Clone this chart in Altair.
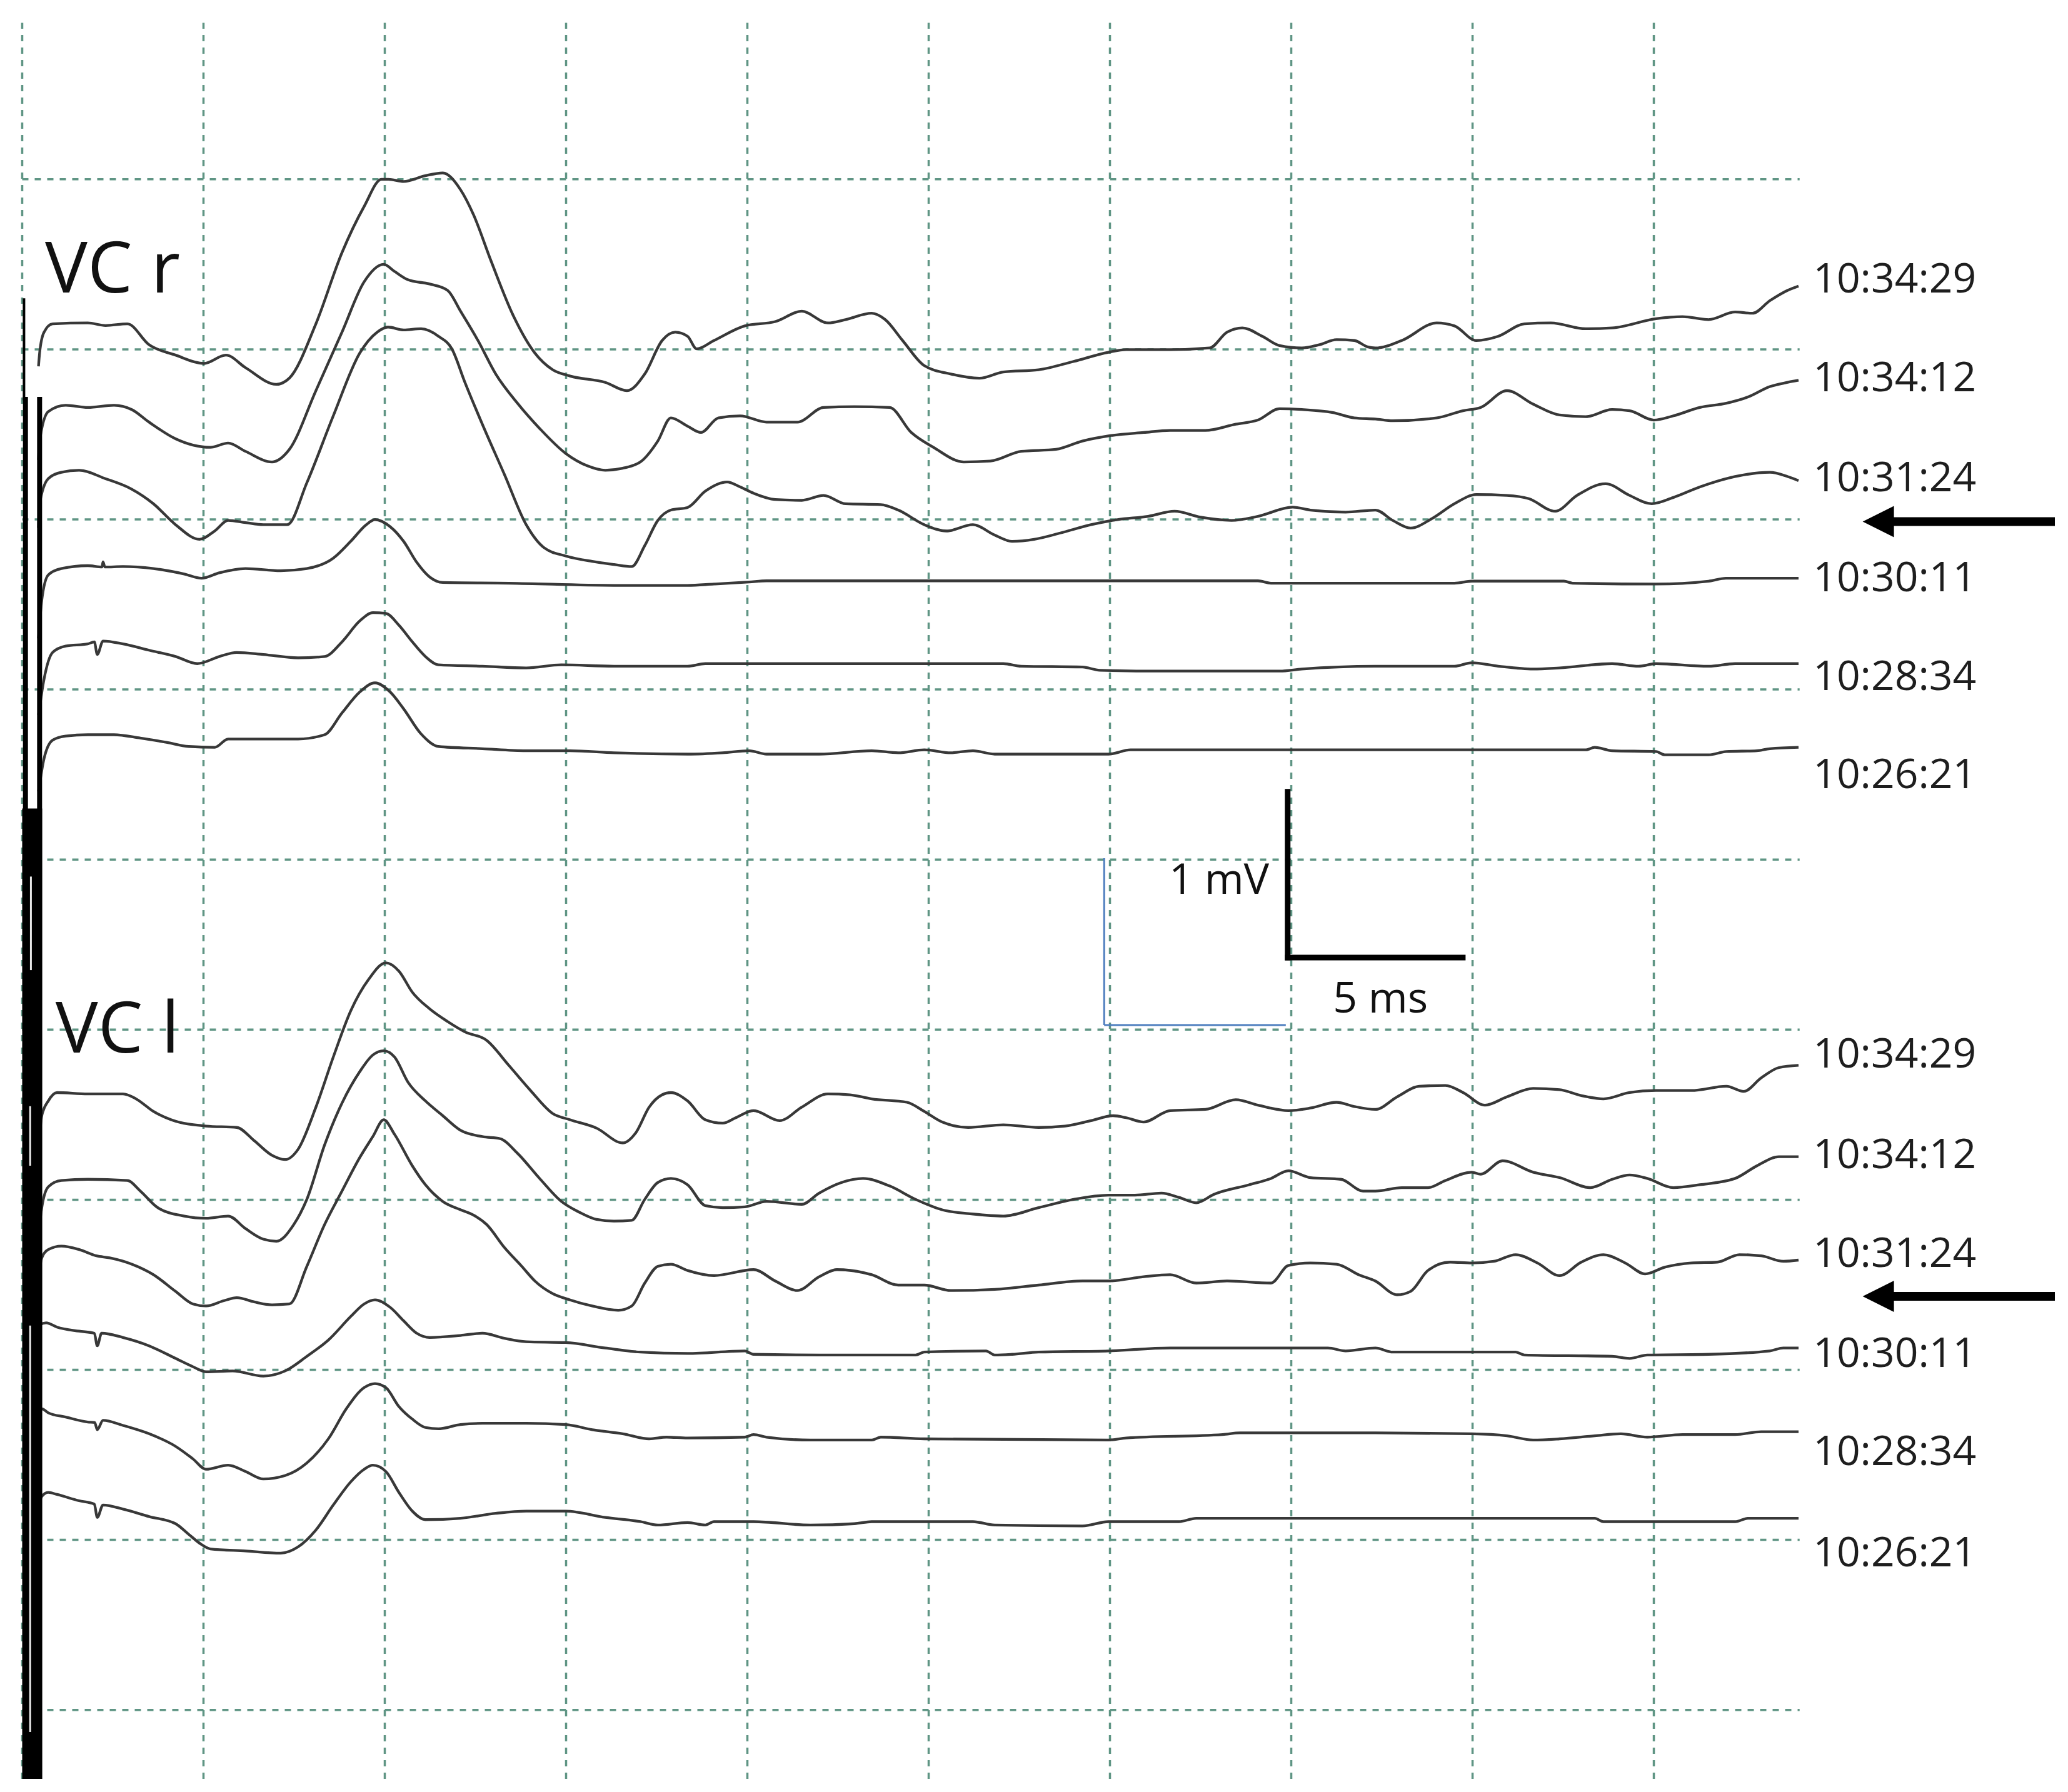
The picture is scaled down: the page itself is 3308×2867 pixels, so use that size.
import altair as alt
import pandas as pd

# ---------------- data (time in ms, potential in mV, traces offset on the sheet) -------------
R_103429 = [[0.45,7.90],[0.48,7.978],[0.6,8.10],[0.84,8.15],[1.81,8.155],[2.3,8.14],[2.9,8.15],[3.5,8.027],[4.23,7.966],[5.01,7.917],[5.62,7.966],[6.16,7.892],[7.01,7.794],[7.37,7.831],[8.1,8.15],[8.82,8.569],[9.43,8.84],[9.91,9.0],[10.1,9.0],[10.52,8.987],[11.1,9.02],[11.6,9.037],[12.09,8.938],[12.45,8.79],[12.93,8.52],[13.54,8.2],[14.14,7.978],[14.63,7.88],[15.11,7.843],[16.08,7.806],[16.68,7.757],[17.17,7.855],[17.65,8.052],[18.01,8.101],[18.35,8.077],[18.6,8.003],[19.08,8.052],[19.93,8.138],[20.77,8.163],[21.5,8.224],[22.22,8.155],[22.71,8.175],[23.43,8.212],[23.8,8.175],[24.28,8.052],[24.88,7.904],[25.61,7.855],[26.4,7.83],[27.06,7.867],[28.03,7.88],[29.0,7.929],[29.96,7.983],[30.45,7.998],[31.66,7.998],[32.75,8.008],[33.23,8.101],[33.65,8.126],[34.2,8.077],[34.68,8.022],[35.29,8.008],[35.77,8.027],[36.25,8.057],[36.74,8.052],[37.1,8.015],[37.32,8.008],[38.05,8.052],[39.01,8.155],[39.5,8.138],[40.1,8.052],[40.71,8.077],[41.43,8.15],[42.16,8.155],[43.12,8.121],[43.85,8.126],[45.06,8.18],[45.79,8.192],[46.51,8.175],[47.24,8.22],[47.72,8.212],[48.2,8.286],[48.69,8.347],[48.99,8.372]]
R_103412 = [[0.45,7.35],[0.48,7.461],[0.72,7.634],[1.2,7.671],[1.81,7.658],[2.53,7.671],[3.02,7.646],[3.5,7.572],[4.23,7.474],[4.71,7.437],[5.19,7.424],[5.68,7.449],[6.16,7.4],[6.89,7.338],[7.37,7.412],[8.1,7.757],[8.82,8.101],[9.43,8.397],[9.97,8.5],[10.27,8.458],[10.64,8.409],[11.24,8.384],[11.73,8.347],[12.09,8.224],[12.57,8.052],[13.06,7.855],[13.66,7.683],[14.27,7.535],[14.99,7.388],[15.6,7.314],[16.08,7.289],[16.56,7.301],[17.05,7.338],[17.53,7.461],[17.89,7.597],[18.35,7.548],[18.72,7.511],[19.2,7.597],[19.8,7.609],[20.53,7.572],[21.38,7.572],[22.1,7.658],[22.95,7.663],[23.92,7.658],[24.52,7.511],[25.13,7.424],[25.97,7.338],[26.7,7.343],[27.55,7.4],[28.51,7.412],[29.24,7.461],[29.96,7.491],[30.93,7.511],[31.66,7.523],[32.63,7.523],[33.47,7.56],[34.08,7.584],[34.68,7.651],[35.29,7.646],[36.13,7.629],[36.74,7.597],[37.32,7.59],[37.8,7.58],[39.01,7.597],[39.74,7.639],[40.22,7.658],[40.95,7.757],[41.67,7.678],[42.4,7.614],[43.12,7.604],[43.85,7.646],[44.33,7.639],[45.0,7.584],[45.54,7.609],[46.27,7.658],[47.0,7.683],[47.6,7.72],[48.2,7.781],[48.69,7.806],[48.99,7.818]]
R_103124 = [[0.45,6.95],[0.48,7.092],[0.72,7.24],[1.08,7.277],[1.57,7.289],[2.29,7.24],[3.02,7.178],[3.62,7.092],[4.23,6.969],[4.89,6.883],[5.31,6.932],[5.68,6.994],[6.16,6.981],[6.65,6.969],[7.31,6.969],[7.85,7.215],[8.58,7.609],[9.31,7.978],[9.79,8.101],[10.09,8.131],[10.52,8.114],[11.0,8.121],[11.48,8.077],[11.85,8.003],[12.21,7.806],[12.69,7.56],[13.3,7.264],[13.9,6.969],[14.39,6.834],[14.99,6.785],[15.72,6.753],[16.32,6.735],[16.81,6.723],[17.17,6.846],[17.53,6.994],[17.89,7.055],[18.35,7.07],[18.84,7.166],[19.44,7.22],[19.8,7.191],[20.17,7.154],[20.77,7.117],[21.5,7.112],[22.1,7.141],[22.71,7.092],[23.68,7.087],[24.16,7.055],[24.88,6.969],[25.49,6.932],[26.22,6.969],[26.82,6.908],[27.3,6.871],[27.91,6.883],[28.63,6.92],[29.48,6.969],[30.21,6.999],[31.05,7.018],[31.78,7.048],[32.5,7.013],[33.35,6.994],[34.08,7.018],[35.04,7.072],[35.53,7.055],[36.5,7.043],[37.32,7.055],[37.8,6.994],[38.29,6.949],[38.89,7.006],[39.5,7.092],[40.1,7.146],[40.95,7.141],[41.55,7.122],[42.28,7.048],[42.88,7.141],[43.67,7.21],[44.33,7.141],[44.94,7.092],[45.54,7.129],[46.27,7.191],[47.24,7.252],[48.2,7.277],[48.69,7.252],[48.99,7.228]]
R_103011 = [[0.45,6.3],[0.54,6.526],[0.72,6.674],[1.08,6.711],[1.81,6.728],[2.2,6.72],[2.23,6.75],[2.28,6.72],[2.78,6.723],[3.62,6.711],[4.47,6.679],[4.95,6.654],[5.44,6.686],[6.16,6.711],[7.13,6.698],[7.85,6.711],[8.58,6.772],[9.06,6.871],[9.49,6.969],[9.73,6.999],[10.15,6.957],[10.52,6.871],[10.88,6.748],[11.24,6.661],[11.6,6.629],[13.42,6.625],[16.32,6.612],[18.35,6.612],[19.08,6.62],[20.05,6.632],[20.53,6.639],[34.08,6.639],[34.44,6.625],[39.5,6.625],[39.98,6.637],[42.52,6.637],[42.76,6.625],[45.06,6.62],[46.51,6.637],[46.99,6.654],[48.99,6.654]]
R_102834 = [[0.45,5.85],[0.6,6.058],[0.84,6.218],[1.2,6.255],[1.81,6.268],[1.99,6.28],[2.07,6.206],[2.23,6.285],[2.78,6.268],[3.5,6.231],[4.23,6.194],[4.83,6.152],[5.44,6.194],[5.92,6.218],[6.65,6.206],[7.61,6.186],[8.34,6.194],[8.82,6.28],[9.31,6.403],[9.67,6.452],[10.03,6.447],[10.39,6.378],[10.76,6.28],[11.12,6.194],[11.48,6.145],[12.69,6.137],[13.9,6.127],[14.87,6.145],[16.32,6.137],[18.35,6.137],[18.84,6.152],[27.06,6.152],[27.55,6.137],[29.24,6.132],[29.72,6.113],[31.42,6.108],[34.68,6.108],[35.29,6.12],[37.32,6.137],[39.5,6.137],[39.98,6.157],[40.71,6.137],[41.67,6.12],[42.4,6.127],[43.85,6.152],[44.58,6.137],[45.06,6.152],[46.51,6.137],[47.24,6.152],[48.99,6.152]]
R_102621 = [[0.45,5.4],[0.6,5.591],[0.84,5.702],[1.2,5.726],[1.81,5.734],[2.53,5.734],[3.26,5.714],[3.98,5.689],[4.59,5.665],[5.31,5.66],[5.68,5.709],[6.65,5.709],[7.61,5.709],[8.34,5.734],[8.82,5.862],[9.31,5.985],[9.73,6.039],[10.15,5.985],[10.52,5.886],[11.0,5.739],[11.48,5.665],[12.69,5.652],[13.9,5.64],[15.11,5.64],[16.32,5.628],[18.35,5.62],[19.32,5.628],[20.05,5.64],[20.53,5.62],[21.98,5.62],[23.43,5.64],[24.16,5.628],[24.88,5.645],[25.61,5.628],[26.22,5.64],[26.82,5.62],[29.96,5.62],[30.57,5.645],[43.12,5.645],[43.37,5.66],[43.85,5.64],[45.06,5.635],[45.3,5.616],[46.51,5.616],[47.0,5.635],[47.84,5.64],[48.2,5.652],[48.99,5.66]]

L_103429 = [[0.45,3.30],[0.54,3.494],[0.72,3.581],[0.96,3.63],[1.81,3.622],[2.78,3.622],[3.14,3.593],[3.62,3.519],[4.11,3.47],[5.07,3.433],[5.92,3.425],[6.4,3.347],[6.89,3.261],[7.25,3.236],[7.61,3.297],[8.1,3.544],[8.58,3.839],[9.06,4.11],[9.55,4.294],[10.03,4.393],[10.39,4.344],[10.76,4.22],[11.24,4.122],[11.73,4.048],[12.21,3.987],[12.81,3.937],[13.42,3.79],[14.02,3.642],[14.63,3.507],[15.11,3.47],[15.84,3.421],[16.56,3.334],[16.93,3.396],[17.29,3.544],[17.65,3.617],[17.89,3.63],[18.35,3.581],[18.84,3.47],[19.32,3.45],[19.68,3.482],[20.17,3.524],[20.89,3.465],[21.5,3.544],[22.22,3.622],[22.83,3.617],[23.43,3.593],[24.4,3.573],[24.88,3.519],[25.37,3.457],[26.09,3.425],[27.06,3.44],[28.03,3.425],[28.76,3.433],[29.48,3.465],[30.09,3.494],[30.45,3.482],[30.93,3.457],[31.66,3.524],[32.63,3.531],[33.47,3.588],[34.08,3.556],[34.92,3.524],[35.53,3.539],[36.25,3.573],[36.74,3.548],[37.32,3.531],[37.92,3.605],[38.53,3.667],[39.25,3.672],[39.74,3.63],[40.34,3.556],[40.95,3.605],[41.67,3.654],[42.4,3.647],[43.0,3.612],[43.61,3.593],[44.33,3.63],[45.06,3.642],[46.03,3.642],[47.0,3.667],[47.48,3.637],[47.96,3.716],[48.45,3.777],[48.99,3.79]]
L_103412 = [[0.45,2.80],[0.54,2.953],[0.72,3.076],[1.08,3.113],[1.81,3.12],[2.9,3.113],[3.26,3.051],[3.74,2.953],[4.47,2.904],[5.07,2.891],[5.68,2.904],[6.16,2.83],[6.65,2.768],[7.01,2.756],[7.49,2.854],[7.85,3.002],[8.34,3.322],[8.82,3.568],[9.31,3.753],[9.67,3.851],[9.97,3.876],[10.27,3.839],[10.64,3.691],[11.12,3.581],[11.6,3.494],[12.09,3.408],[12.69,3.371],[13.18,3.359],[13.66,3.273],[14.27,3.125],[14.87,2.99],[15.35,2.928],[15.84,2.884],[16.32,2.874],[16.81,2.879],[17.17,3.002],[17.53,3.101],[17.89,3.125],[18.35,3.088],[18.84,2.965],[19.32,2.953],[19.93,2.958],[20.53,2.99],[21.5,2.973],[21.98,3.039],[22.59,3.101],[23.19,3.125],[23.92,3.081],[24.64,3.002],[25.37,2.941],[26.22,2.916],[27.06,2.904],[28.03,2.953],[29.0,3.002],[29.96,3.027],[30.69,3.027],[31.42,3.039],[31.9,3.014],[32.38,2.982],[32.87,3.032],[33.84,3.088],[34.44,3.125],[34.92,3.17],[35.53,3.13],[36.37,3.12],[36.98,3.051],[37.32,3.051],[38.05,3.071],[38.77,3.071],[39.25,3.113],[39.98,3.162],[40.22,3.15],[40.83,3.229],[41.67,3.162],[42.4,3.13],[43.25,3.071],[43.85,3.12],[44.33,3.145],[44.82,3.125],[45.54,3.071],[46.27,3.088],[47.24,3.125],[47.84,3.199],[48.45,3.253],[48.99,3.253]]
L_103124 = [[0.45,2.55],[0.54,2.658],[0.72,2.707],[1.08,2.727],[1.57,2.707],[2.05,2.67],[2.41,2.658],[3.02,2.621],[3.62,2.559],[4.23,2.461],[4.71,2.387],[5.07,2.375],[5.56,2.406],[5.92,2.424],[6.4,2.399],[6.89,2.382],[7.37,2.387],[7.85,2.608],[8.34,2.854],[8.82,3.051],[9.31,3.248],[9.67,3.371],[9.97,3.47],[10.27,3.384],[10.76,3.199],[11.12,3.088],[11.6,2.99],[12.09,2.941],[12.45,2.909],[12.81,2.854],[13.3,2.719],[13.78,2.608],[14.14,2.522],[14.63,2.448],[15.11,2.411],[15.72,2.375],[16.44,2.35],[16.81,2.375],[17.17,2.51],[17.53,2.608],[17.89,2.621],[18.35,2.584],[19.08,2.554],[20.17,2.589],[20.77,2.522],[21.38,2.466],[21.98,2.547],[22.47,2.589],[23.43,2.559],[24.16,2.498],[24.88,2.498],[25.61,2.466],[26.82,2.473],[28.03,2.498],[29.24,2.522],[29.96,2.522],[30.93,2.547],[31.66,2.559],[32.38,2.51],[33.23,2.522],[34.44,2.51],[34.92,2.613],[35.53,2.628],[36.25,2.621],[36.86,2.559],[37.32,2.522],[37.92,2.441],[38.29,2.461],[38.77,2.584],[39.38,2.633],[39.98,2.628],[40.59,2.638],[41.19,2.677],[41.79,2.628],[42.4,2.554],[43.0,2.633],[43.61,2.677],[44.21,2.628],[44.76,2.564],[45.3,2.603],[46.03,2.628],[46.75,2.633],[47.36,2.677],[47.96,2.67],[48.57,2.638],[48.99,2.645]]
L_103011 = [[0.45,2.2],[0.48,2.264],[0.66,2.276],[0.96,2.251],[1.57,2.227],[1.99,2.215],[2.07,2.141],[2.19,2.215],[2.78,2.19],[3.5,2.141],[4.23,2.067],[4.71,2.018],[5.07,1.988],[5.8,1.993],[6.65,1.963],[7.25,1.993],[7.85,2.079],[8.46,2.178],[9.06,2.313],[9.43,2.387],[9.73,2.411],[10.15,2.367],[10.52,2.288],[10.88,2.215],[11.24,2.19],[12.09,2.202],[12.69,2.215],[13.3,2.185],[13.9,2.165],[14.99,2.16],[16.08,2.128],[17.05,2.104],[18.35,2.096],[19.93,2.111],[20.17,2.091],[21.98,2.087],[24.64,2.087],[24.88,2.104],[26.58,2.111],[26.82,2.087],[27.3,2.091],[28.03,2.104],[29.96,2.111],[31.66,2.128],[36.01,2.128],[36.5,2.111],[37.32,2.128],[37.8,2.104],[41.19,2.104],[41.43,2.087],[43.85,2.079],[44.33,2.067],[44.82,2.087],[46.51,2.091],[48.2,2.111],[48.57,2.128],[48.99,2.128]]
L_102834 = [[0.45,1.70],[0.54,1.771],[0.72,1.747],[1.2,1.722],[1.81,1.693],[2.0,1.69],[2.07,1.648],[2.23,1.703],[2.78,1.673],[3.5,1.624],[4.23,1.55],[4.71,1.476],[5.07,1.415],[5.68,1.439],[6.16,1.402],[6.65,1.358],[7.25,1.378],[7.85,1.452],[8.46,1.599],[8.94,1.771],[9.43,1.895],[9.73,1.919],[10.03,1.895],[10.39,1.784],[10.76,1.71],[11.12,1.661],[11.48,1.653],[12.09,1.678],[12.69,1.685],[13.9,1.685],[14.99,1.678],[15.72,1.648],[16.56,1.624],[17.29,1.594],[17.77,1.604],[18.35,1.599],[19.93,1.604],[20.17,1.619],[20.53,1.604],[21.74,1.587],[23.43,1.587],[23.68,1.604],[24.88,1.594],[29.96,1.587],[30.45,1.599],[33.11,1.619],[33.59,1.629],[37.32,1.629],[39.98,1.624],[40.95,1.612],[41.67,1.587],[42.4,1.594],[43.37,1.612],[44.09,1.624],[44.82,1.604],[45.79,1.619],[47.24,1.619],[47.96,1.636],[48.99,1.636]]
L_102621 = [[0.45,1.2],[0.54,1.255],[0.72,1.279],[0.96,1.267],[1.57,1.23],[1.99,1.21],[2.07,1.132],[2.23,1.205],[2.78,1.181],[3.5,1.137],[4.23,1.095],[4.59,1.033],[4.95,0.972],[5.19,0.947],[6.16,0.935],[7.13,0.922],[7.61,0.959],[8.1,1.058],[8.58,1.205],[9.06,1.341],[9.43,1.415],[9.67,1.439],[10.03,1.402],[10.39,1.279],[10.76,1.169],[11.12,1.119],[12.09,1.127],[13.06,1.156],[13.9,1.169],[14.99,1.169],[16.08,1.132],[17.05,1.107],[17.53,1.087],[18.35,1.102],[18.84,1.087],[19.08,1.107],[20.17,1.107],[21.74,1.087],[22.95,1.095],[23.43,1.107],[26.22,1.107],[26.82,1.087],[29.24,1.082],[29.96,1.107],[31.9,1.107],[32.38,1.127],[43.37,1.127],[43.61,1.107],[47.24,1.107],[47.6,1.127],[48.99,1.127]]

TIME_LABELS = ["10:34:29", "10:34:12", "10:31:24", "10:30:11", "10:28:34", "10:26:21"]
VCR_TRACES = [R_103429, R_103412, R_103124, R_103011, R_102834, R_102621]
VCL_TRACES = [L_103429, L_103412, L_103124, L_103011, L_102834, L_102621]
VCR_LABEL_V = [8.335, 7.752, 7.166, 6.577, 5.997, 5.42]
VCL_LABEL_V = [3.777, 3.187, 2.605, 2.018, 1.44, 0.844]
GROUPS = ["VC r", "VC l"]
GROUP_LABEL_POS = [[0.63, 8.335], [0.92, 3.864]]
ARROW_V = [6.987, 2.432]          # arrows point at the 10:31:24 traces
GRID_T = [0, 5, 10, 15, 20, 25, 30, 35, 40, 45]
GRID_V = [0, 1, 2, 3, 4, 5, 6, 7, 8, 9]
SCALE_MV = 1      # scale bar: 1 mV
SCALE_MS = 5      # scale bar: 5 ms

# ---------------- build tables ----------------
rows = []
for grp, traces in zip(GROUPS, [VCR_TRACES, VCL_TRACES]):
    for lab, pts in zip(TIME_LABELS, traces):
        for i, (t, v) in enumerate(pts):
            rows.append({"trace": f"{grp} {lab}", "i": i, "t": t, "v": v})
trace_df = pd.DataFrame(rows)

T_MIN, T_MAX = -0.4741, 56.284
V_MIN, V_MAX = -0.4531, 10.0246
XS = alt.Scale(domain=[T_MIN, T_MAX], nice=False, zero=False)
YS = alt.Scale(domain=[V_MIN, V_MAX], nice=False, zero=False)
GRID_COLOR = "#5f9584"
INK = "#383838"


def xq(f):
    return alt.X(f, scale=XS, axis=None)


def yq(f):
    return alt.Y(f, scale=YS, axis=None)


vgrid = pd.DataFrame({"t": GRID_T, "v0": [-0.405] * len(GRID_T), "v1": [9.92] * len(GRID_T)})
hgrid = pd.DataFrame({"v": GRID_V, "t0": [0.0] * len(GRID_V), "t1": [49.02] * len(GRID_V)})

vgrid_layer = alt.Chart(vgrid).mark_rule(color=GRID_COLOR, strokeWidth=3.5, strokeDash=[10, 10]).encode(
    x=xq("t:Q"), y=yq("v0:Q"), y2="v1:Q")
hgrid_layer = alt.Chart(hgrid).mark_rule(color=GRID_COLOR, strokeWidth=3.5, strokeDash=[10, 10]).encode(
    y=yq("v:Q"), x=xq("t0:Q"), x2="t1:Q")

line_layer = alt.Chart(trace_df).mark_line(color=INK, strokeWidth=4.3, strokeJoin="round",
                                           interpolate="monotone").encode(
    x=xq("t:Q"), y=yq("v:Q"), detail="trace:N", order="i:Q")

# stimulus artifact at the start of the sweep
art_thin = pd.DataFrame({"t": [0.05], "v0": [7.70], "v1": [8.30]})
art_thin_layer = alt.Chart(art_thin).mark_rule(color="#000000", strokeWidth=4).encode(
    x=xq("t:Q"), y=yq("v0:Q"), y2="v1:Q")
artifact = pd.DataFrame({"t": [0.09, 0.48], "v0": [-0.405, -0.405], "v1": [7.72, 7.72]})
artifact_layer = alt.Chart(artifact).mark_rule(color="#000000", strokeWidth=8).encode(
    x=xq("t:Q"), y=yq("v0:Q"), y2="v1:Q")
band = pd.DataFrame({"t0": [0.0], "t1": [0.55], "v0": [-0.405], "v1": [5.3]})
band_layer = alt.Chart(band).mark_rect(color="#000000").encode(
    x=xq("t0:Q"), x2="t1:Q", y=yq("v0:Q"), y2="v1:Q")
gap = pd.DataFrame({"t": [0.22, 0.22, 0.24], "v0": [-0.13, 3.2, 4.35], "v1": [2.26, 3.55, 4.9]})
gap_layer = alt.Chart(gap).mark_rule(color="#e8e8e8", strokeWidth=3).encode(
    x=xq("t:Q"), y=yq("v0:Q"), y2="v1:Q")

# scale bars
bar_t0, bar_v0 = 34.9, 4.424
black_bar = pd.DataFrame({"t0": [bar_t0, bar_t0], "t1": [bar_t0, bar_t0 + SCALE_MS * 0.966],
                          "v0": [bar_v0, bar_v0], "v1": [bar_v0 + SCALE_MV * 0.975, bar_v0]})
black_bar_layer = alt.Chart(black_bar).mark_rule(color="#000000", strokeWidth=9, strokeCap="square").encode(
    x=xq("t0:Q"), x2="t1:Q", y=yq("v0:Q"), y2="v1:Q")
blue_t0, blue_v0 = 29.84, 4.027
blue_bar = pd.DataFrame({"t0": [blue_t0, blue_t0], "t1": [blue_t0, blue_t0 + 5.01],
                         "v0": [blue_v0, blue_v0], "v1": [blue_v0 + 0.981, blue_v0]})
blue_bar_layer = alt.Chart(blue_bar).mark_rule(color="#4f7fbf", strokeWidth=3).encode(
    x=xq("t0:Q"), x2="t1:Q", y=yq("v0:Q"), y2="v1:Q")

# texts
time_df = pd.DataFrame({"t": [49.39] * 12, "v": VCR_LABEL_V + VCL_LABEL_V, "text": TIME_LABELS + TIME_LABELS})
time_layer = alt.Chart(time_df).mark_text(align="left", baseline="alphabetic", font="Open Sans",
                                          fontSize=66, color="#1e1e1e").encode(
    x=xq("t:Q"), y=yq("v:Q"), text="text:N")

group_df = pd.DataFrame({"t": [p[0] for p in GROUP_LABEL_POS], "v": [p[1] for p in GROUP_LABEL_POS], "text": GROUPS})
group_layer = alt.Chart(group_df).mark_text(align="left", baseline="alphabetic", font="Open Sans",
                                            fontSize=114, color="#111111").encode(
    x=xq("t:Q"), y=yq("v:Q"), text="text:N")

mv_df = pd.DataFrame({"t": [34.39], "v": [4.799], "text": [f"{SCALE_MV} mV"]})
mv_layer = alt.Chart(mv_df).mark_text(align="right", baseline="alphabetic", font="Open Sans",
                                      fontSize=68, color="#111111").encode(
    x=xq("t:Q"), y=yq("v:Q"), text="text:N")
ms_df = pd.DataFrame({"t": [36.15], "v": [4.10], "text": [f"{SCALE_MS} ms"]})
ms_layer = alt.Chart(ms_df).mark_text(align="left", baseline="alphabetic", font="Open Sans",
                                      fontSize=68, color="#111111").encode(
    x=xq("t:Q"), y=yq("v:Q"), text="text:N")

# arrows
arrow_df = pd.DataFrame({"v": ARROW_V, "t0": [51.3] * 2, "t1": [56.06] * 2, "th": [51.19] * 2})
shaft_layer = alt.Chart(arrow_df).mark_rule(color="#000000", strokeWidth=14).encode(
    x=xq("t0:Q"), x2="t1:Q", y=yq("v:Q"))
head_layer = alt.Chart(arrow_df).mark_point(shape="M -1 0 L 1 -1 L 1 1 Z", size=2500, filled=True,
                                            color="#000000", opacity=1, strokeWidth=0).encode(
    x=xq("th:Q"), y=yq("v:Q"))

chart = alt.layer(
    vgrid_layer, hgrid_layer, blue_bar_layer, line_layer, band_layer, art_thin_layer, artifact_layer,
    gap_layer, black_bar_layer, time_layer, group_layer, mv_layer, ms_layer, shaft_layer, head_layer,
).properties(
    width=3292, height=2851, padding=0, background="#ffffff",
    autosize=alt.AutoSizeParams(type="none"),
).configure_view(strokeWidth=0)

chart.save("out.html", embed_options={"renderer": "svg", "actions": False})
